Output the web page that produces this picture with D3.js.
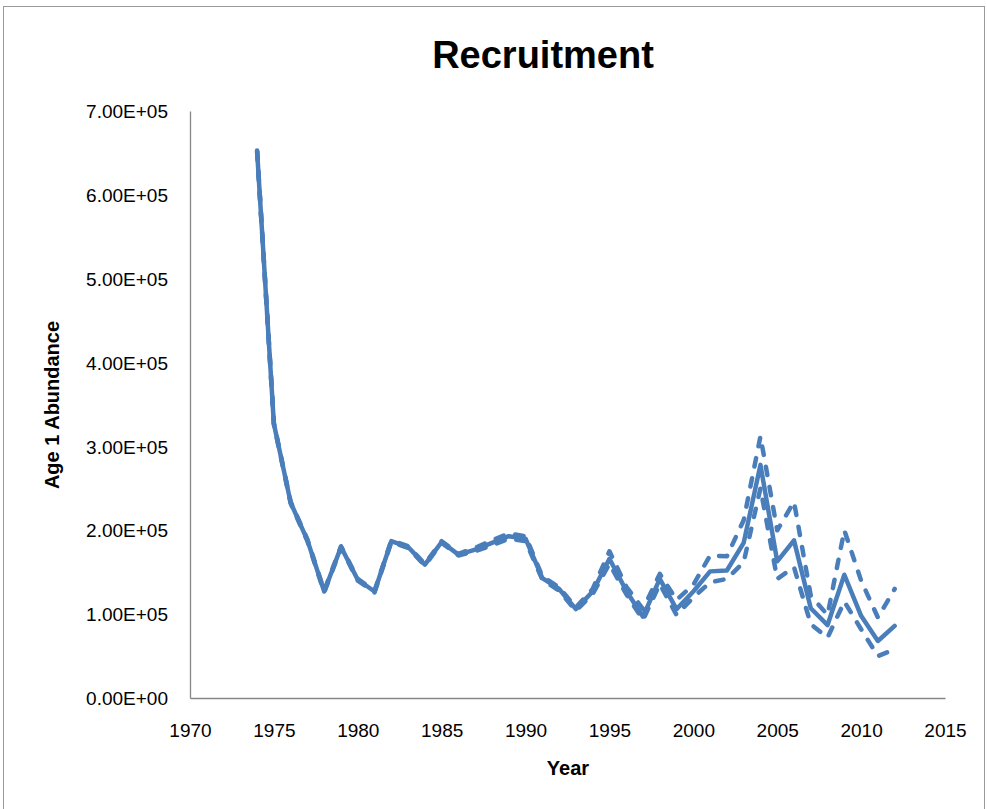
<!DOCTYPE html>
<html>
<head>
<meta charset="utf-8">
<script src="https://cdn.jsdelivr.net/npm/d3@7"></script>
<style>
  body { margin: 0; background: #fff; }
  text { font-family: "Liberation Sans", Arial, sans-serif; }
</style>
</head>
<body>
<div id="chart"></div>
<script>
// chart values (age 1 abundance)
var years = [1974, 1975, 1976, 1977, 1978, 1979, 1980, 1981, 1982, 1983,
  1984, 1985, 1986, 1987, 1988, 1989, 1990, 1991, 1992, 1993,
  1994, 1995, 1996, 1997, 1998, 1999, 2000, 2001, 2002, 2003,
  2004, 2005, 2006, 2007, 2008, 2009, 2010, 2011, 2012];

var recruits = [652000, 327000, 233000, 188000, 127000, 180000, 141000, 127000, 187000, 180000,
  159000, 186000, 171000, 177000, 185000, 193000, 190000, 143000, 130000, 106000,
  127000, 166000, 128000, 97000, 142000, 106000, 127000, 151000, 152000, 185000,
  278000, 163000, 188000, 107000, 87000, 147000, 98000, 68000, 86000];

var upperCI = [653000, 328000, 234000, 189000, 128000, 181000, 142000, 128000, 188000, 181000,
  160000, 187000, 172000, 179000, 188000, 196000, 193000, 145000, 132000, 108000,
  130000, 175000, 133000, 106000, 148000, 117000, 135000, 170000, 169000, 212000,
  312000, 200000, 234000, 122000, 99000, 200000, 140000, 96000, 130000];

var lowerCI = [651000, 326000, 232000, 187000, 126000, 179000, 140000, 126000, 186000, 179000,
  158000, 185000, 170000, 175000, 182000, 190000, 187000, 141000, 128000, 104000,
  124000, 160000, 124000, 93000, 136000, 99000, 120000, 138000, 142000, 162000,
  250000, 142000, 156000, 88000, 72000, 115000, 82000, 50000, 58000];

var xTicks = [1970, 1975, 1980, 1985, 1990, 1995, 2000, 2005, 2010, 2015];
var yTicks = [0, 100000, 200000, 300000, 400000, 500000, 600000, 700000];

var svgWidth = 987;
var svgHeight = 809;
var margin = { top: 111, right: 42, bottom: 111, left: 190 };
var width = svgWidth - margin.left - margin.right;
var height = svgHeight - margin.top - margin.bottom;

var svg = d3.select("#chart")
  .append("svg")
  .attr("width", svgWidth)
  .attr("height", svgHeight);

// outer chart border
svg.append("rect")
  .attr("x", 3.5)
  .attr("y", 6.5)
  .attr("width", 981)
  .attr("height", 820)
  .attr("fill", "none")
  .attr("stroke", "#9a9a9a")
  .attr("stroke-width", 1);

var chartGroup = svg.append("g")
  .attr("transform", `translate(${margin.left}, ${margin.top})`);

var xScale = d3.scaleLinear()
  .domain([1970, 2015])
  .range([0, width]);

var yScale = d3.scaleLinear()
  .domain([0, 700000])
  .range([height, 0]);

function sciFormat(v) {
  var s = v.toExponential(2).toUpperCase();
  var parts = s.split("E");
  var sign = parts[1].charAt(0);
  var exp = parts[1].slice(1);
  if (exp.length < 2) exp = "0" + exp;
  return parts[0] + "E" + sign + exp;
}

var bottomAxis = d3.axisBottom(xScale)
  .tickValues(xTicks)
  .tickFormat(d3.format("d"))
  .tickSize(0)
  .tickPadding(26);

var leftAxis = d3.axisLeft(yScale)
  .tickValues(yTicks)
  .tickFormat(sciFormat)
  .tickSize(0)
  .tickPadding(22);

var xAxisG = chartGroup.append("g")
  .attr("transform", `translate(0, ${height})`)
  .call(bottomAxis);

var yAxisG = chartGroup.append("g").call(leftAxis);

[xAxisG, yAxisG].forEach(function(g) {
  g.select(".domain").attr("stroke", "#868686").attr("stroke-width", 1.3);
  g.selectAll("text")
    .attr("fill", "#000")
    .style("font-size", "19px")
    .style("font-family", "'Liberation Sans', Arial, sans-serif");
});
yAxisG.selectAll("text").attr("dy", "0.35em");

var line = d3.line()
  .x(function(d) { return xScale(d[0]); })
  .y(function(d) { return yScale(d[1]); });

function pairs(vals) {
  return years.map(function(y, i) { return [y, vals[i]]; });
}

var seriesList = [
  { vals: lowerCI, dash: "8.5,12" },
  { vals: upperCI, dash: "8.5,12" },
  { vals: recruits, dash: null }
];

seriesList.forEach(function(s) {
  chartGroup.append("path")
    .datum(pairs(s.vals))
    .attr("d", line)
    .attr("fill", "none")
    .attr("stroke", "#4a7ebb")
    .attr("stroke-width", 4.5)
    .attr("stroke-linejoin", "round")
    .attr("stroke-linecap", "round")
    .attr("stroke-dasharray", s.dash);
});

// titles
svg.append("text")
  .attr("x", 543)
  .attr("y", 68)
  .attr("text-anchor", "middle")
  .style("font-size", "38px")
  .style("font-weight", "bold")
  .text("Recruitment");

svg.append("text")
  .attr("x", 568)
  .attr("y", 775)
  .attr("text-anchor", "middle")
  .style("font-size", "20px")
  .style("font-weight", "bold")
  .text("Year");

svg.append("text")
  .attr("transform", "rotate(-90)")
  .attr("x", -405)
  .attr("y", 59)
  .attr("text-anchor", "middle")
  .style("font-size", "20px")
  .style("font-weight", "bold")
  .text("Age 1 Abundance");
</script>
</body>
</html>
